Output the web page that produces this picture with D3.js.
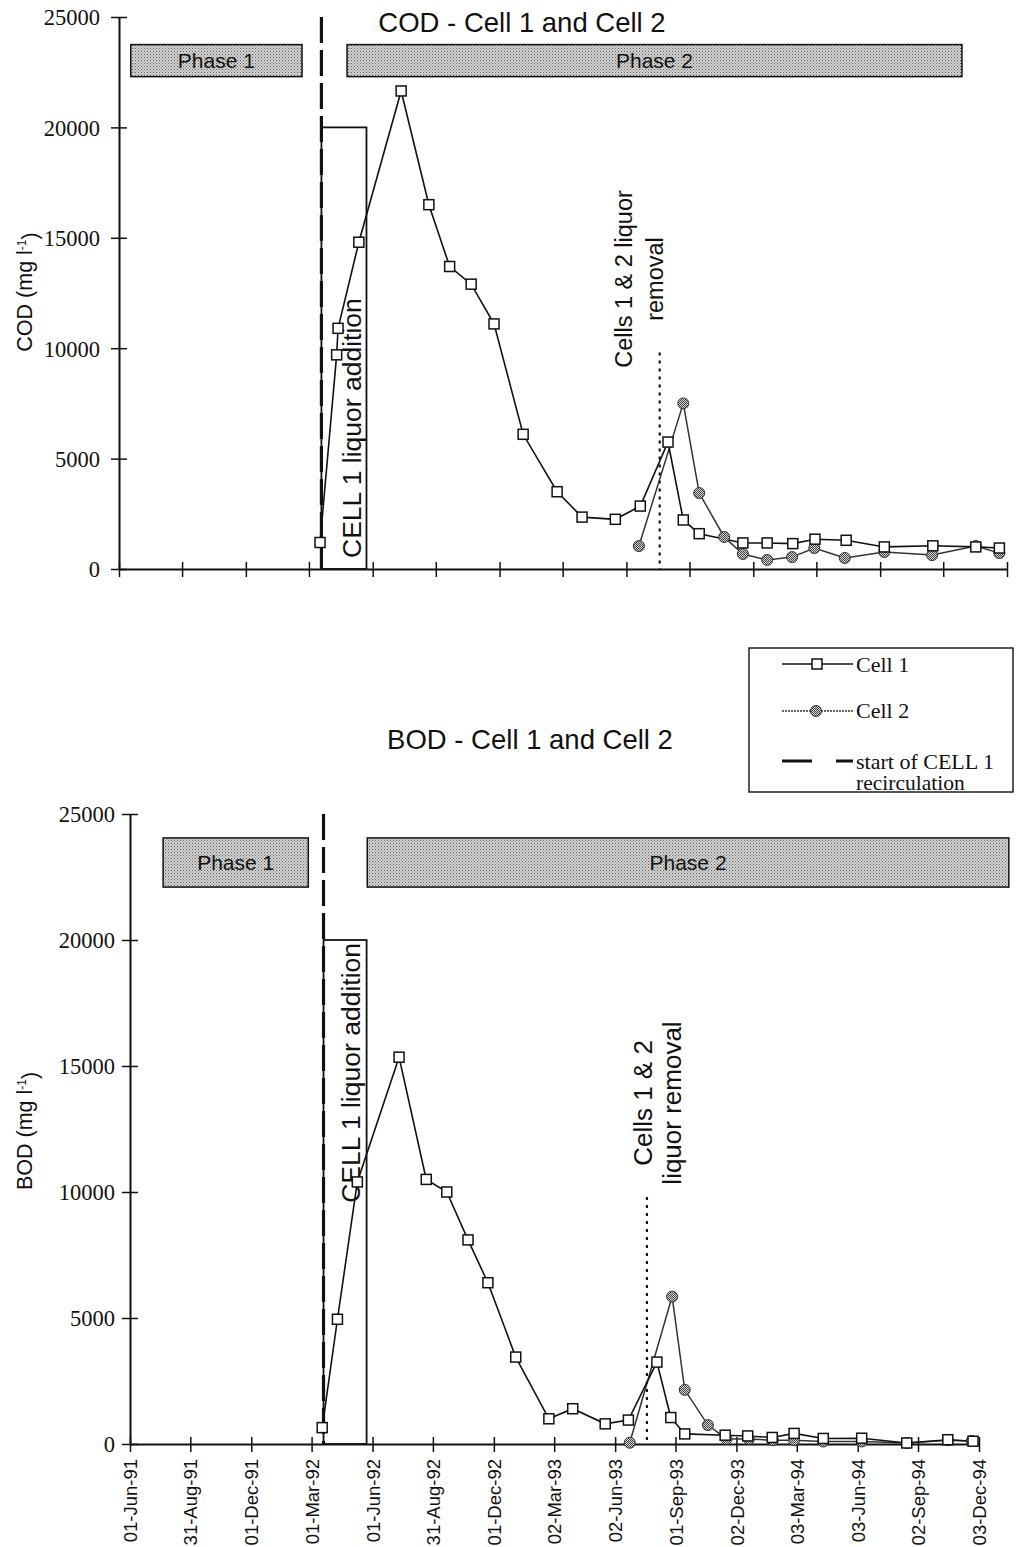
<!DOCTYPE html>
<html>
<head>
<meta charset="utf-8">
<script src="https://cdn.jsdelivr.net/npm/d3@7/dist/d3.min.js"></script>
<style>
  html, body { margin: 0; padding: 0; background: #fff; }
  svg { display: block; }
</style>
</head>
<body>
<svg id="chart" width="1018" height="1547"></svg>
<script>
// ---------------- DATA ----------------
const tickLabels = ["01-Jun-91","31-Aug-91","01-Dec-91","01-Mar-92","01-Jun-92","31-Aug-92","01-Dec-92","02-Mar-93","02-Jun-93","01-Sep-93","02-Dec-93","03-Mar-94","03-Jun-94","02-Sep-94","03-Dec-94"];
const yTicks = [0, 5000, 10000, 15000, 20000, 25000];

const codCell1Dates = ["1992-03-17","1992-04-10","1992-04-12","1992-05-12","1992-07-12","1992-08-21","1992-09-20","1992-10-21","1992-11-23","1993-01-04","1993-02-22","1993-03-30","1993-05-17","1993-06-22","1993-08-01","1993-08-23","1993-09-15","1993-11-17","1993-12-22","1994-01-28","1994-03-01","1994-04-15","1994-06-09","1994-08-18","1994-10-19","1994-11-22"];
const codCell1 = [1200,9700,10900,14800,21650,16500,13700,12900,11100,6100,3500,2350,2250,2850,5750,2220,1600,1180,1180,1150,1350,1300,1000,1050,1000,950];

const codCell2Dates = ["1993-06-20","1993-08-23","1993-09-15","1993-10-21","1993-11-17","1993-12-22","1994-01-27","1994-02-28","1994-04-13","1994-06-09","1994-08-17","1994-10-19","1994-11-22"];
const codCell2 = [1040,7500,3440,1450,680,410,540,950,500,770,630,1040,720];

const bodCell1Dates = ["1992-03-17","1992-04-09","1992-05-09","1992-07-11","1992-08-21","1992-09-21","1992-10-23","1992-11-22","1993-01-03","1993-02-22","1993-03-30","1993-05-18","1993-06-22","1993-08-04","1993-08-25","1993-09-15","1993-11-15","1993-12-19","1994-01-25","1994-02-27","1994-04-12","1994-06-09","1994-08-16","1994-10-17","1994-11-24"];
const bodCell1 = [650,4950,10400,15350,10500,10000,8100,6400,3450,1000,1400,800,950,3250,1050,400,350,320,260,420,220,230,40,170,110];

const bodCell2Dates = ["1993-06-24","1993-08-27","1993-09-15","1993-10-20","1993-11-17","1993-12-21","1994-01-26","1994-02-27","1994-04-12","1994-06-09","1994-08-16","1994-10-17","1994-11-22"];
const bodCell2 = [50,5850,2150,750,200,200,150,150,100,100,40,150,120];

// events
const recircStart = "1992-03-19";
const additionEnd = "1992-05-23";
const additionLevel = 20000;
const removalDate = "1993-07-20";
const removalTop = 9800;

const codPhaseLabels = ["Phase 1", "Phase 2"];
const codPhaseStarts = ["1991-06-18", "1992-04-25"];
const codPhaseEnds = ["1992-02-20", "1994-09-29"];
const codPhaseRange = [22300, 23750];

const bodPhaseLabels = ["Phase 1", "Phase 2"];
const bodPhaseStarts = ["1991-07-21", "1992-05-24"];
const bodPhaseEnds = ["1992-02-25", "1995-01-17"];
const bodPhaseRange = [22100, 24050];

const domainDates = ["1991-06-01", "1994-12-03"];

// ---------------- DRAWING ----------------
const parse = d3.utcParse("%Y-%m-%d");
const parseTick = d3.utcParse("%d-%b-%y");
const tickDates = tickLabels.map(parseTick);
const SANS = "'Liberation Sans', Arial, Helvetica, sans-serif";
const SERIF = "'Liberation Serif', 'Times New Roman', serif";

const svg = d3.select("#chart");
const defs = svg.append("defs");

// stipple pattern for phase boxes
const pStip = defs.append("pattern").attr("id","stipple").attr("width",3).attr("height",3)
  .attr("patternUnits","userSpaceOnUse");
pStip.append("rect").attr("width",3).attr("height",3).attr("fill","#d2d2d2");
pStip.append("rect").attr("x",0).attr("y",0).attr("width",1).attr("height",1).attr("fill","#5e5e5e");
pStip.append("rect").attr("x",1.5).attr("y",1.5).attr("width",1).attr("height",1).attr("fill","#7a7a7a");

// hatch pattern for cell 2 markers
const pHatch = defs.append("pattern").attr("id","hatch").attr("width",2).attr("height",2)
  .attr("patternUnits","userSpaceOnUse");
pHatch.append("rect").attr("width",2).attr("height",2).attr("fill","#d8d8d8");
pHatch.append("rect").attr("width",1).attr("height",1).attr("fill","#404040");
pHatch.append("rect").attr("x",1).attr("y",1).attr("width",1).attr("height",1).attr("fill","#404040");

function drawChart(cfg) {
  const x = d3.scaleUtc().domain(domainDates.map(parse)).range([cfg.x0, cfg.x1]);
  const y = d3.scaleLinear().domain([0, 25000]).range([cfg.y0, cfg.y1]);
  const g = svg.append("g");

  // title
  g.append("text").attr("x", cfg.titleX).attr("y", cfg.titleY)
    .attr("text-anchor","middle").style("font-family", SANS).style("font-size", cfg.titleSize + "px")
    .attr("fill","#111").text(cfg.title);

  // phase boxes
  cfg.phaseLabels.forEach((lab, i) => {
    const xa = x(parse(cfg.phaseStarts[i])), xb = x(parse(cfg.phaseEnds[i]));
    const ya = y(cfg.phaseRange[1]), yb = y(cfg.phaseRange[0]);
    g.append("rect").attr("x", xa).attr("y", ya).attr("width", xb - xa).attr("height", yb - ya)
      .attr("fill","url(#stipple)").attr("stroke","#111").attr("stroke-width",1.5);
    g.append("text").attr("x",(xa+xb)/2).attr("y",(ya+yb)/2).attr("dy","0.36em")
      .attr("text-anchor","middle").style("font-family", SANS).style("font-size","21px")
      .attr("fill","#111").text(lab);
  });

  // y axis
  const yAxis = d3.axisLeft(y).tickValues(yTicks).tickFormat(d3.format("d"))
    .tickSizeOuter(0).tickSize(0).tickPadding(0);
  const ga = g.append("g").attr("transform", `translate(${cfg.x0},0)`).call(yAxis);
  ga.select(".domain").attr("stroke","#111").attr("stroke-width",2);
  ga.selectAll(".tick line").attr("x1",-8).attr("x2",8).attr("stroke","#111").attr("stroke-width",1.5);
  ga.selectAll(".tick text").attr("x",-cfg.yLabelGap).attr("dy","0.35em")
    .style("font-family", SERIF).style("font-size","22.5px").attr("fill","#111");

  // x axis
  const xAxis = d3.axisBottom(x).tickValues(tickDates).tickSizeOuter(0).tickSize(0)
    .tickFormat((d,i) => cfg.showXLabels ? tickLabels[i] : "");
  const gx = g.append("g").attr("transform", `translate(0,${cfg.y0})`).call(xAxis);
  gx.select(".domain").attr("stroke","#111").attr("stroke-width",2);
  gx.selectAll(".tick line").attr("y1",-7).attr("y2",8).attr("stroke","#111").attr("stroke-width",1.5);
  gx.selectAll(".tick text").attr("transform","rotate(-90)").attr("x",-15).attr("y",0).attr("dy","0.36em")
    .style("text-anchor","end").style("font-family", SANS).style("font-size","18.5px").attr("fill","#111");

  // y axis title
  const yt = g.append("text").attr("transform", `translate(${cfg.yTitleX},${cfg.yTitleY}) rotate(-90)`)
    .attr("text-anchor","middle").style("font-family", SANS).style("font-size","21.5px").attr("fill","#111");
  yt.append("tspan").text(cfg.yTitle + " (mg l");
  yt.append("tspan").attr("dy","-0.5em").style("font-size","12px").text("-1");
  yt.append("tspan").attr("dy","0.5em").text(")");

  // liquor addition rectangle
  const xr0 = x(parse(recircStart)), xr1 = x(parse(additionEnd));
  g.append("rect").attr("x", xr0).attr("y", y(additionLevel)).attr("width", xr1 - xr0)
    .attr("height", y(0) - y(additionLevel)).attr("fill","none").attr("stroke","#111").attr("stroke-width",1.8);
  g.append("line").attr("x1", xr0).attr("x2", xr0).attr("y1", y(25000)).attr("y2", y(0))
    .attr("stroke","#111").attr("stroke-width",3.2).attr("stroke-dasharray","26,7");
  const addText = g.append("text").style("font-family", SANS).style("font-size", cfg.addSize + "px")
    .attr("fill","#111").text("CELL 1 liquor addition");
  if (cfg.addAtTop) {
    addText.attr("transform", `translate(${xr1 - 7},${y(additionLevel) + 3}) rotate(-90)`).attr("text-anchor","end");
  } else {
    addText.attr("transform", `translate(${xr1 - 5},${y(0) - 11}) rotate(-90)`).attr("text-anchor","start");
  }

  // liquor removal dotted line
  const xm = x(parse(removalDate));
  g.append("line").attr("x1", xm).attr("x2", xm).attr("y1", y(removalTop)).attr("y2", y(0))
    .attr("stroke","#111").attr("stroke-width",2.2).attr("stroke-dasharray","3,5");
  cfg.removalLines.forEach((ln, i) => {
    g.append("text").attr("transform", `translate(${xm + cfg.removalDx[i]},${cfg.removalY}) rotate(-90)`)
      .attr("text-anchor","middle").style("font-family", SANS).style("font-size", cfg.removalSize + "px")
      .attr("fill","#111").text(ln);
  });

  // series
  const line = d3.line().x(d => x(d.date)).y(d => y(d.value));
  const s1 = cfg.c1Dates.map((d,i) => ({date: parse(d), value: cfg.c1[i]}));
  const s2 = cfg.c2Dates.map((d,i) => ({date: parse(d), value: cfg.c2[i]}));

  g.append("path").datum(s2).attr("d", line).attr("fill","none")
    .attr("stroke","#333").attr("stroke-width",1.5);
  g.append("path").datum(s1).attr("d", line).attr("fill","none")
    .attr("stroke","#111").attr("stroke-width",1.6);

  g.selectAll(".c2").data(s2).enter().append("circle")
    .attr("cx", d => x(d.date)).attr("cy", d => y(d.value)).attr("r", 5.5)
    .attr("fill","url(#hatch)").attr("stroke","#333").attr("stroke-width",1);
  g.selectAll(".c1").data(s1).enter().append("rect")
    .attr("x", d => x(d.date) - 5).attr("y", d => y(d.value) - 5).attr("width",10).attr("height",10)
    .attr("fill","#fff").attr("stroke","#111").attr("stroke-width",1.5);
}

drawChart({
  x0:119, x1:1007, y0:569, y1:17,
  title:"COD - Cell 1 and Cell 2", titleX:522, titleY:32, titleSize:27.5,
  phaseLabels:codPhaseLabels, phaseStarts:codPhaseStarts, phaseEnds:codPhaseEnds, phaseRange:codPhaseRange,
  showXLabels:false, yTitle:"COD", yTitleX:32, yTitleY:292, yLabelGap:19,
  addSize:26.5, addAtTop:false,
  removalLines:["Cells 1 & 2 liquor","removal"], removalDx:[-28, 3], removalY:279, removalSize:23.5,
  c1Dates:codCell1Dates, c1:codCell1, c2Dates:codCell2Dates, c2:codCell2
});

drawChart({
  x0:130, x1:979, y0:1444, y1:814,
  title:"BOD - Cell 1 and Cell 2", titleX:530, titleY:749, titleSize:27.5,
  phaseLabels:bodPhaseLabels, phaseStarts:bodPhaseStarts, phaseEnds:bodPhaseEnds, phaseRange:bodPhaseRange,
  showXLabels:true, yTitle:"BOD", yTitleX:32, yTitleY:1131, yLabelGap:15,
  addSize:26.5, addAtTop:true,
  removalLines:["Cells 1 & 2","liquor removal"], removalDx:[5, 34], removalY:1103, removalSize:26,
  c1Dates:bodCell1Dates, c1:bodCell1, c2Dates:bodCell2Dates, c2:bodCell2
});

// ---------------- LEGEND ----------------
const lg = svg.append("g");
lg.append("rect").attr("x",749).attr("y",648).attr("width",264).attr("height",144)
  .attr("fill","#fff").attr("stroke","#111").attr("stroke-width",1.4);
lg.append("line").attr("x1",782).attr("x2",853).attr("y1",664).attr("y2",664).attr("stroke","#111").attr("stroke-width",1.5);
lg.append("rect").attr("x",812).attr("y",659).attr("width",10).attr("height",10).attr("fill","#fff").attr("stroke","#111").attr("stroke-width",1.5);
lg.append("text").attr("x",856).attr("y",672).style("font-family",SERIF).style("font-size","22px").attr("fill","#111").text("Cell 1");
lg.append("line").attr("x1",782).attr("x2",853).attr("y1",711).attr("y2",711).attr("stroke","#333").attr("stroke-width",1.5).attr("stroke-dasharray","2,1");
lg.append("circle").attr("cx",816).attr("cy",711).attr("r",5.5).attr("fill","url(#hatch)").attr("stroke","#333");
lg.append("text").attr("x",856).attr("y",718).style("font-family",SERIF).style("font-size","22px").attr("fill","#111").text("Cell 2");
lg.append("line").attr("x1",782).attr("x2",853).attr("y1",761).attr("y2",761).attr("stroke","#111").attr("stroke-width",3.2).attr("stroke-dasharray","30,24");
lg.append("text").attr("x",856).attr("y",769).style("font-family",SERIF).style("font-size","22px").attr("fill","#111").text("start of CELL 1");
lg.append("text").attr("x",856).attr("y",790).style("font-family",SERIF).style("font-size","21.5px").attr("fill","#111").text("recirculation");
</script>
</body>
</html>
